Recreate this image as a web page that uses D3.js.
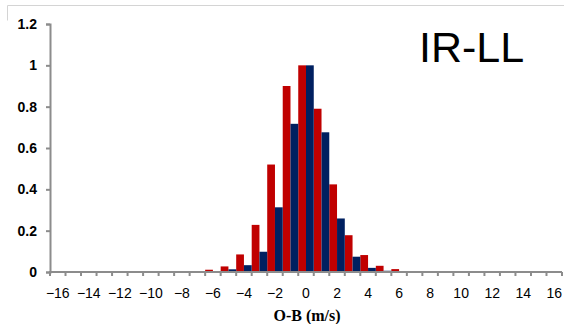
<!DOCTYPE html>
<html>
<head>
<meta charset="utf-8">
<script src="https://cdn.jsdelivr.net/npm/d3@7"></script>
<style>
  body { margin: 0; background: #fff; }
  svg { display: block; }
</style>
</head>
<body>
<svg id="chart" width="564" height="324"></svg>
<script>
// bins of O-B (m/s), one category per integer
const categories = d3.range(-16, 17);
// normalised frequency, red series (drawn on the left of each bin)
const redValues = [0, 0, 0, 0, 0, 0, 0, 0, 0, 0.003, 0.011, 0.027, 0.085, 0.228, 0.52, 0.9, 1.0,
  0.79, 0.424, 0.178, 0.082, 0.03, 0.014, 0.002, 0, 0, 0, 0, 0, 0, 0, 0, 0];
// normalised frequency, blue series (right of each bin)
const blueValues = [0, 0, 0, 0, 0, 0, 0, 0, 0, 0, 0.003, 0.013, 0.033, 0.098, 0.313, 0.717, 1.0,
  0.676, 0.259, 0.074, 0.02, 0.006, 0.002, 0, 0, 0, 0, 0, 0, 0, 0, 0, 0];
const yTicks = [0, 0.2, 0.4, 0.6, 0.8, 1, 1.2];
const xLabels = d3.range(-16, 17, 2);
const series = [
  {name: "red", values: redValues, color: "#c00000"},
  {name: "blue", values: blueValues, color: "#002060"}
];

const svg = d3.select("#chart");
const plotLeft = 50, plotRight = 562, plotTop = 24, plotBottom = 272;

const x = d3.scaleBand().domain(categories).range([plotLeft, plotRight]).padding(0);
const xSub = d3.scaleBand().domain(series.map(s => s.name)).range([0, x.bandwidth()]).padding(0);
const y = d3.scaleLinear().domain([0, 1.2]).range([plotBottom, plotTop]);

// light frame bits at the top left
svg.append("path")
  .attr("d", "M7.5,20.5 V5.5 H564")
  .attr("fill", "none")
  .attr("stroke", "#d4d4d4")
  .attr("stroke-width", 1);

// bars
series.forEach(s => {
  svg.append("g")
    .selectAll("rect")
    .data(categories.map((c, i) => ({c: c, v: s.values[i]})).filter(d => d.v > 0))
    .enter()
    .append("rect")
    .attr("x", d => x(d.c) + xSub(s.name))
    .attr("width", xSub.bandwidth())
    .attr("y", d => y(d.v))
    .attr("height", d => y(0) - y(d.v))
    .attr("fill", s.color);
});

// y axis
const yAxis = svg.append("g")
  .attr("transform", `translate(${plotLeft},0)`)
  .call(d3.axisLeft(y).tickValues(yTicks).tickSize(4).tickPadding(9)
    .tickFormat(d => d3.format("~g")(d)));
yAxis.select(".domain").attr("stroke", "#8c8c8c").attr("stroke-width", 2);
yAxis.selectAll(".tick line").attr("stroke", "#8c8c8c").attr("stroke-width", 2);
yAxis.selectAll("text")
  .attr("font-family", "Liberation Sans, Arial, sans-serif")
  .attr("font-weight", "bold")
  .attr("font-size", "14px")
  .attr("fill", "#000");

// x axis: ticks on bin boundaries, labels on even bins
const xAxis = svg.append("g").attr("transform", `translate(0,${plotBottom})`);
xAxis.append("line")
  .attr("x1", plotLeft - 1).attr("x2", plotRight)
  .attr("stroke", "#8c8c8c").attr("stroke-width", 2);
xAxis.selectAll("line.tk")
  .data(categories.map(c => x(c)).concat([plotRight]))
  .enter()
  .append("line")
  .attr("class", "tk")
  .attr("x1", d => d).attr("x2", d => d)
  .attr("y1", 0).attr("y2", 4)
  .attr("stroke", "#8c8c8c").attr("stroke-width", 2);
xAxis.selectAll("text")
  .data(xLabels)
  .enter()
  .append("text")
  .attr("x", d => x(d) + x.bandwidth() / 2)
  .attr("y", 26)
  .attr("text-anchor", "middle")
  .attr("font-family", "Liberation Sans, Arial, sans-serif")
  .attr("font-size", "14px")
  .attr("fill", "#000")
  .text(d => d < 0 ? "\u2212" + Math.abs(d) : d);

// axis title
svg.append("text")
  .attr("x", 307)
  .attr("y", 321)
  .attr("text-anchor", "middle")
  .attr("font-family", "Liberation Serif, Times New Roman, serif")
  .attr("font-weight", "bold")
  .attr("font-size", "16px")
  .text("O-B (m/s)");

// panel label
svg.append("text")
  .attr("x", 419)
  .attr("y", 62)
  .attr("font-family", "Liberation Sans, Arial, sans-serif")
  .attr("font-size", "43px")
  .text("IR-LL");
</script>
</body>
</html>
